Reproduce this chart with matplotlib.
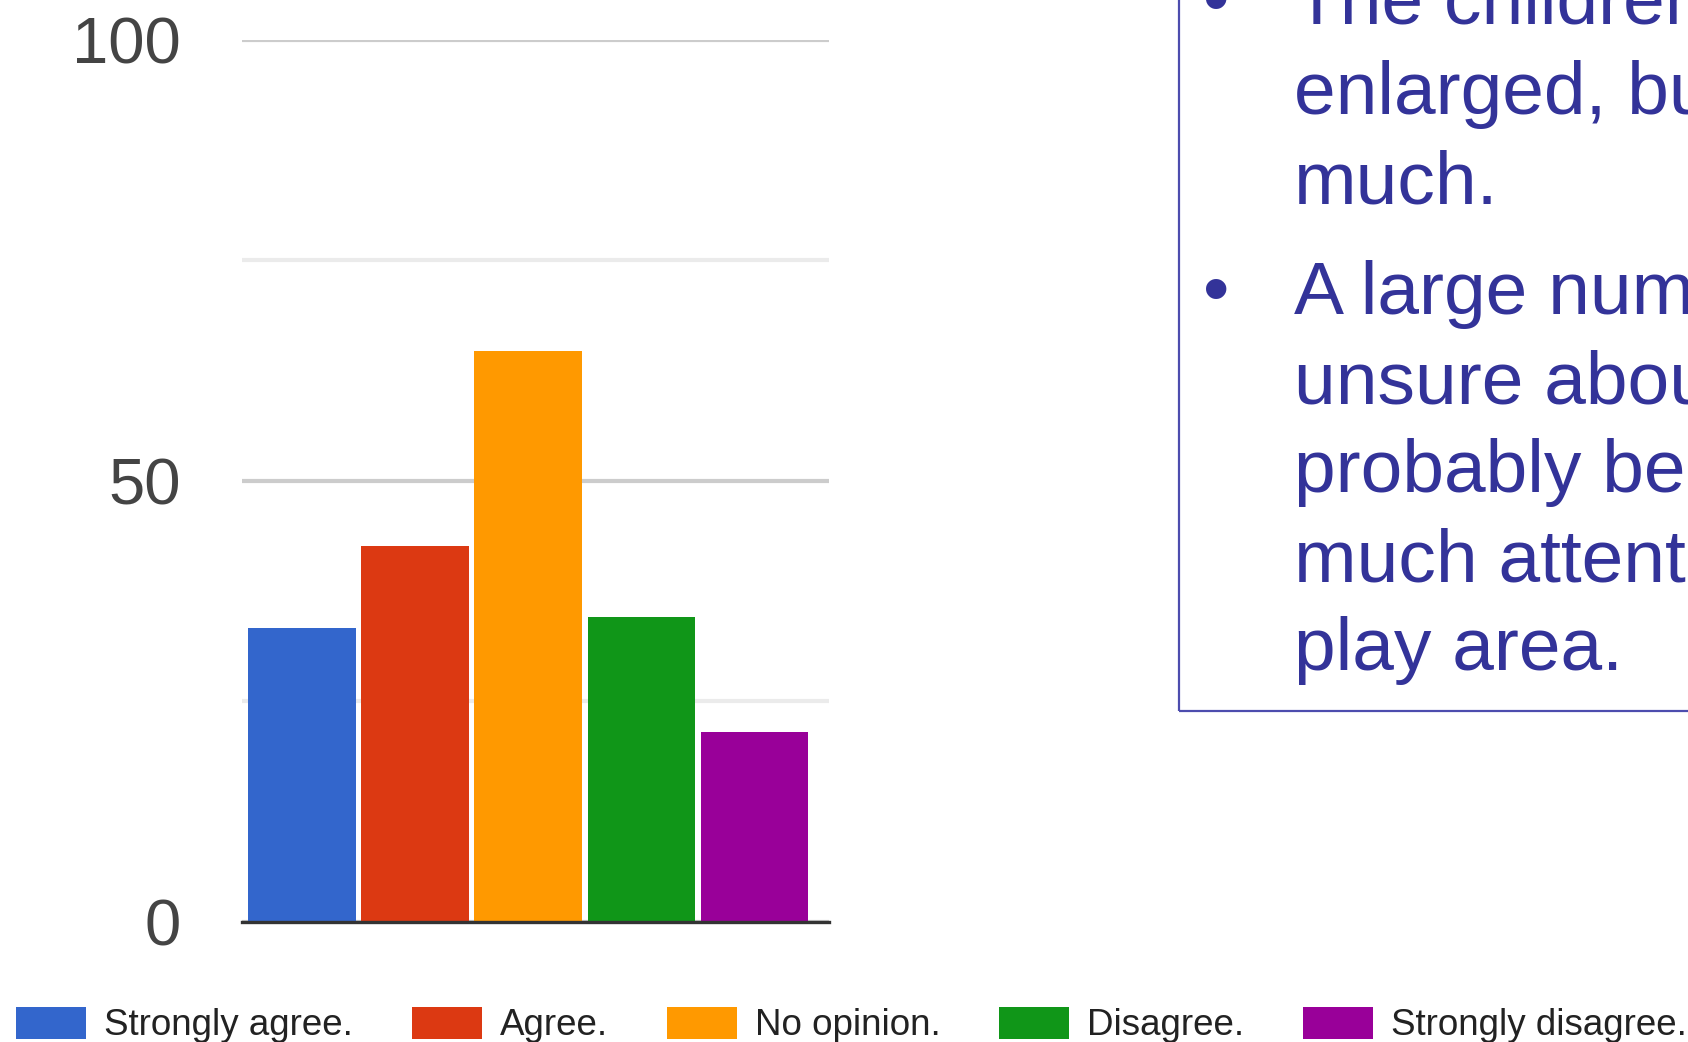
import matplotlib.pyplot as plt
from matplotlib.patches import Rectangle

# survey answers
categories = ["Strongly agree.", "Agree.", "No opinion.", "Disagree.", "Strongly disagree."]
counts = [33.3, 42.6, 64.7, 34.6, 21.5]
colors = ["#3366cc", "#dc3912", "#ff9900", "#109618", "#990099"]
y_ticks = [0, 50, 100]
y_minor = [25, 75]

para1 = ["The children thought the", "enlarged, but not by", "much."]
para2 = ["A large number were", "unsure about the", "probably because they", "much attention to the", "play area."]

W, H = 1688, 1042
fig = plt.figure(figsize=(W / 100, H / 100), dpi=100)
fig.patch.set_facecolor("white")

ax = fig.add_axes([242 / W, 1 - 921.5 / H, (829 - 242) / W, (921.5 - 40) / H])
x = list(range(len(categories)))
bars = ax.bar(x, counts, width=0.95, color=colors, zorder=2)
ax.set_xlim(-0.53, 4.66)
ax.set_ylim(0, 100)
ax.set_xticks([])
ax.set_yticks(y_ticks)
ax.set_yticks(y_minor, minor=True)
ax.set_yticklabels([str(v) for v in y_ticks], fontsize=47, color="#444444",
                   family=["Liberation Sans", "DejaVu Sans"])
ax.tick_params(axis="y", which="both", length=0, pad=44)
ax.grid(axis="y", which="major", color="#cccccc", lw=3.0, zorder=0)
ax.grid(axis="y", which="minor", color="#ebebeb", lw=3.0, zorder=0)
ax.set_axisbelow(True)
ax.axhline(0, color="#333333", lw=2.4, zorder=3, clip_on=False)
for s in ax.spines.values():
    s.set_visible(False)

leg = fig.legend(bars, categories, loc="center left", bbox_to_anchor=(16 / W, 1 - 1025 / H),
                 ncol=5, frameon=False, borderpad=0, borderaxespad=0,
                 handlelength=1.9, handleheight=0.98, handletextpad=0.49, columnspacing=1.6,
                 prop={"family": "Liberation Sans", "size": 26.5})
for t in leg.get_texts():
    t.set_color("#222222")

# text box on the right (runs off the slide edge)
fig.patches.append(Rectangle((1179 / W, 1 - 711 / H), 1.0, 1.0, transform=fig.transFigure,
                             fill=False, edgecolor="#4d4dae", lw=1.6))
txt_color = "#333399"
base = 24
for i, line in enumerate(para1):
    y = base + i * 90
    if i == 0:
        fig.text(1216 / W, 1 - y / H, "\u2022", ha="center", va="baseline", fontsize=54,
                 color=txt_color, family="Liberation Sans")
    fig.text(1294 / W, 1 - y / H, line, ha="left", va="baseline", fontsize=54,
             color=txt_color, family="Liberation Sans")
base = 314
for i, line in enumerate(para2):
    y = base + i * 89
    if i == 0:
        fig.text(1216 / W, 1 - y / H, "\u2022", ha="center", va="baseline", fontsize=54,
                 color=txt_color, family="Liberation Sans")
    fig.text(1294 / W, 1 - y / H, line, ha="left", va="baseline", fontsize=54,
             color=txt_color, family="Liberation Sans")

fig.savefig("out.png", dpi=100)
